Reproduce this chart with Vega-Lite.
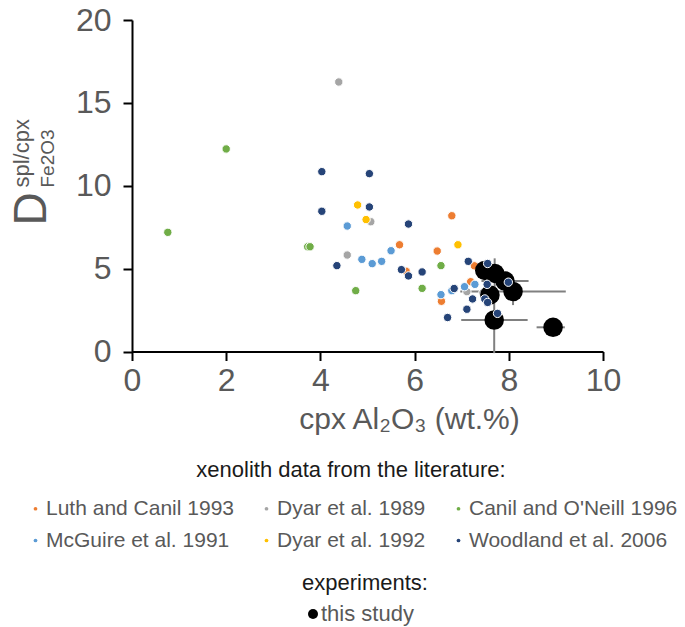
{
  "$schema": "https://vega.github.io/schema/vega-lite/v6.json",
  "width": 471,
  "height": 331.5,
  "autosize": {"type": "none"},
  "padding": {"left": 132, "top": 20, "right": 82, "bottom": 275.5},
  "background": "white",
  "config": {
    "view": {"stroke": null},
    "font": "Liberation Sans",
    "axis": {"grid": false}
  },
  "datasets": {
    "lit": [
      {"src": "Luth and Canil 1993", "X": 6.79, "Y": 8.19},
      {"src": "Luth and Canil 1993", "X": 5.68, "Y": 6.44},
      {"src": "Luth and Canil 1993", "X": 6.48, "Y": 6.06},
      {"src": "Luth and Canil 1993", "X": 5.82, "Y": 4.84},
      {"src": "Luth and Canil 1993", "X": 7.27, "Y": 5.17},
      {"src": "Luth and Canil 1993", "X": 7.19, "Y": 4.21},
      {"src": "Luth and Canil 1993", "X": 6.57, "Y": 3.03},
      {"src": "Dyar et al. 1989", "X": 4.39, "Y": 16.26},
      {"src": "Dyar et al. 1989", "X": 5.07, "Y": 7.83},
      {"src": "Dyar et al. 1989", "X": 4.57, "Y": 5.82},
      {"src": "Dyar et al. 1989", "X": 7.11, "Y": 3.61},
      {"src": "Dyar et al. 1989", "X": 7.45, "Y": 3.55},
      {"src": "Canil and O'Neill 1996", "X": 0.76, "Y": 7.19},
      {"src": "Canil and O'Neill 1996", "X": 2.0, "Y": 12.22},
      {"src": "Canil and O'Neill 1996", "X": 3.73, "Y": 6.32},
      {"src": "Canil and O'Neill 1996", "X": 3.78, "Y": 6.32},
      {"src": "Canil and O'Neill 1996", "X": 4.75, "Y": 3.67},
      {"src": "Canil and O'Neill 1996", "X": 6.56, "Y": 5.18},
      {"src": "Canil and O'Neill 1996", "X": 6.16, "Y": 3.81},
      {"src": "McGuire et al. 1991", "X": 4.57, "Y": 7.57},
      {"src": "McGuire et al. 1991", "X": 4.88, "Y": 5.56},
      {"src": "McGuire et al. 1991", "X": 5.1, "Y": 5.3},
      {"src": "McGuire et al. 1991", "X": 5.3, "Y": 5.44},
      {"src": "McGuire et al. 1991", "X": 5.5, "Y": 6.08},
      {"src": "McGuire et al. 1991", "X": 6.56, "Y": 3.43},
      {"src": "McGuire et al. 1991", "X": 6.79, "Y": 3.67},
      {"src": "McGuire et al. 1991", "X": 7.06, "Y": 3.91},
      {"src": "McGuire et al. 1991", "X": 7.28, "Y": 4.05},
      {"src": "Dyar et al. 1992", "X": 4.79, "Y": 8.84},
      {"src": "Dyar et al. 1992", "X": 4.97, "Y": 7.96},
      {"src": "Dyar et al. 1992", "X": 6.92, "Y": 6.44},
      {"src": "Woodland et al. 2006", "X": 4.03, "Y": 10.85},
      {"src": "Woodland et al. 2006", "X": 5.04, "Y": 10.73},
      {"src": "Woodland et al. 2006", "X": 5.04, "Y": 8.72},
      {"src": "Woodland et al. 2006", "X": 4.03, "Y": 8.46},
      {"src": "Woodland et al. 2006", "X": 4.35, "Y": 5.18},
      {"src": "Woodland et al. 2006", "X": 5.87, "Y": 7.69},
      {"src": "Woodland et al. 2006", "X": 5.72, "Y": 4.94},
      {"src": "Woodland et al. 2006", "X": 5.87, "Y": 4.56},
      {"src": "Woodland et al. 2006", "X": 6.16, "Y": 4.8},
      {"src": "Woodland et al. 2006", "X": 7.14, "Y": 5.44},
      {"src": "Woodland et al. 2006", "X": 6.84, "Y": 3.8},
      {"src": "Woodland et al. 2006", "X": 7.23, "Y": 3.17},
      {"src": "Woodland et al. 2006", "X": 7.11, "Y": 2.55},
      {"src": "Woodland et al. 2006", "X": 6.7, "Y": 2.05}
    ],
    "exp": [
      {"grp": "this study", "X": 7.49, "Y": 4.89, "xlo": null, "xhi": null, "ylo": null, "yhi": null},
      {"grp": "this study", "X": 7.7, "Y": 4.71, "xlo": null, "xhi": null, "ylo": 3.8, "yhi": 5.62},
      {"grp": "this study", "X": 7.92, "Y": 4.25, "xlo": 7.42, "xhi": 8.42, "ylo": null, "yhi": null},
      {"grp": "this study", "X": 8.09, "Y": 3.62, "xlo": 6.97, "xhi": 9.21, "ylo": 2.8, "yhi": 4.44},
      {"grp": "this study", "X": 7.6, "Y": 3.41, "xlo": null, "xhi": null, "ylo": null, "yhi": null},
      {"grp": "this study", "X": 7.69, "Y": 1.9, "xlo": 6.99, "xhi": 8.4, "ylo": -0.1, "yhi": 3.9},
      {"grp": "this study", "X": 8.94, "Y": 1.46, "xlo": 8.59, "xhi": 9.19, "ylo": null, "yhi": null}
    ],
    "top": [
      {"src": "Woodland et al. 2006", "X": 7.55, "Y": 5.31},
      {"src": "Woodland et al. 2006", "X": 7.54, "Y": 4.05},
      {"src": "Woodland et al. 2006", "X": 7.99, "Y": 4.18},
      {"src": "Woodland et al. 2006", "X": 7.49, "Y": 3.17},
      {"src": "Woodland et al. 2006", "X": 7.55, "Y": 2.96},
      {"src": "Woodland et al. 2006", "X": 7.76, "Y": 2.3}
    ]
  },
  "layer": [
    {
      "data": {"name": "exp"},
      "transform": [{"filter": "isValid(datum.xlo)"}],
      "mark": {"type": "rule", "color": "#808080", "strokeWidth": 2},
      "encoding": {
        "x": {
          "field": "xlo", "type": "quantitative",
          "scale": {"domain": [0, 10], "nice": false},
          "title": "cpx Al₂O₃ (wt.%)",
          "axis": {
            "values": [0, 2, 4, 6, 8, 10],
            "domainColor": "black", "domainWidth": 2,
            "tickColor": "black", "tickWidth": 2, "tickSize": 9,
            "labelFontSize": 32, "labelColor": "#595959", "labelPadding": 5, "labelFlush": false,
            "titleFontSize": 30, "titleColor": "#595959", "titleFontWeight": "normal",
            "titleX": 277, "titleY": 77, "titleAlign": "center", "titleBaseline": "alphabetic"
          }
        },
        "x2": {"field": "xhi"},
        "y": {
          "field": "Y", "type": "quantitative",
          "scale": {"domain": [0, 20], "nice": false},
          "title": "D",
          "axis": {
            "orient": "left",
            "values": [0, 5, 10, 15, 20],
            "domainColor": "black", "domainWidth": 2,
            "tickColor": "black", "tickWidth": 2, "tickSize": 9,
            "labelFontSize": 32, "labelColor": "#595959", "labelPadding": 12,
            "titleFontSize": 46, "titleColor": "#595959", "titleFontWeight": "normal",
            "titleAngle": 270, "titleX": -87, "titleY": 205,
            "titleAlign": "left", "titleBaseline": "alphabetic"
          }
        }
      }
    },
    {
      "data": {"name": "exp"},
      "transform": [{"filter": "isValid(datum.ylo)"}],
      "mark": {"type": "rule", "color": "#808080", "strokeWidth": 2},
      "encoding": {
        "x": {"field": "X", "type": "quantitative", "title": "cpx Al₂O₃ (wt.%)"},
        "y": {
          "field": "ylo", "type": "quantitative",
          "title": "spl/cpx",
          "axis": {
            "orient": "left",
            "domain": false, "ticks": false, "labels": false,
            "titleFontSize": 22, "titleColor": "#595959", "titleFontWeight": "normal",
            "titleAngle": 270, "titleX": -104, "titleY": 167,
            "titleAlign": "left", "titleBaseline": "alphabetic"
          }
        },
        "y2": {"field": "yhi"}
      }
    },
    {
      "data": {"name": "lit"},
      "mark": {"type": "circle", "size": 70, "opacity": 1, "stroke": "white", "strokeWidth": 1},
      "encoding": {
        "x": {"field": "X", "type": "quantitative", "title": "cpx Al₂O₃ (wt.%)"},
        "y": {
          "field": "Y", "type": "quantitative",
          "title": "Fe2O3",
          "axis": {
            "orient": "left",
            "domain": false, "ticks": false, "labels": false,
            "titleFontSize": 19, "titleColor": "#595959", "titleFontWeight": "normal",
            "titleAngle": 270, "titleX": -79, "titleY": 167,
            "titleAlign": "left", "titleBaseline": "alphabetic"
          }
        },
        "color": {
          "field": "src", "type": "nominal",
          "scale": {
            "domain": ["Luth and Canil 1993", "Dyar et al. 1989", "Canil and O'Neill 1996", "McGuire et al. 1991", "Dyar et al. 1992", "Woodland et al. 2006"],
            "range": ["#ED7D31", "#A5A5A5", "#70AD47", "#5B9BD5", "#FFC000", "#264478"]
          },
          "legend": {
            "title": "xenolith data from the literature:",
            "orient": "none", "legendX": -107, "legendY": 440,
            "direction": "horizontal", "columns": 3,
            "symbolType": "circle", "symbolSize": 14, "symbolStrokeWidth": 0,
            "labelFontSize": 21, "labelColor": "#595959", "labelOffset": 0, "labelLimit": 400,
            "titleFontSize": 22, "titleColor": "#1a1a1a", "titleFontWeight": "normal",
            "titleAnchor": "middle", "titlePadding": 16, "titleLimit": 600,
            "rowPadding": 10, "columnPadding": 22
          }
        }
      }
    },
    {
      "data": {"name": "exp"},
      "mark": {"type": "point", "filled": true, "size": 380, "color": "black", "opacity": 1},
      "encoding": {
        "x": {"field": "X", "type": "quantitative", "title": "cpx Al₂O₃ (wt.%)"},
        "y": {"field": "Y", "type": "quantitative", "axis": null},
        "shape": {
          "field": "grp", "type": "nominal",
          "scale": {"domain": ["this study"], "range": ["circle"]},
          "legend": {
            "title": "experiments:",
            "orient": "none", "legendX": 170, "legendY": 553,
            "symbolSize": 100, "symbolFillColor": "black", "symbolStrokeWidth": 0,
            "labelFontSize": 22, "labelColor": "#595959", "labelOffset": -3,
            "titleFontSize": 22, "titleColor": "#1a1a1a", "titleFontWeight": "normal",
            "titleAnchor": "start", "titlePadding": 8
          }
        }
      }
    },
    {
      "data": {"name": "top"},
      "mark": {"type": "circle", "size": 70, "opacity": 1, "stroke": "white", "strokeWidth": 1},
      "encoding": {
        "x": {"field": "X", "type": "quantitative", "title": "cpx Al₂O₃ (wt.%)"},
        "y": {"field": "Y", "type": "quantitative", "axis": null},
        "color": {"field": "src", "type": "nominal", "legend": null}
      }
    }
  ],
  "resolve": {"axis": {"y": "independent"}}
}
